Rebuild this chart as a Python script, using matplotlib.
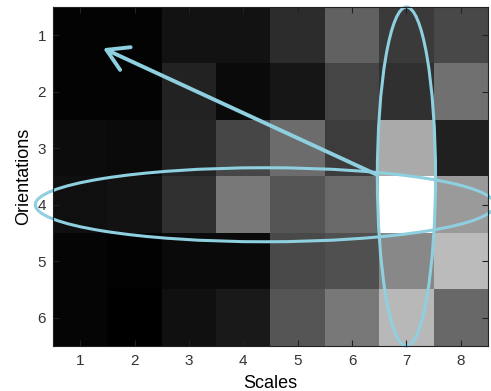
import matplotlib
matplotlib.use("Agg")
import matplotlib.pyplot as plt
import numpy as np
from matplotlib.patches import Ellipse, FancyArrowPatch

plt.rcParams['font.family'] = ['Liberation Sans', 'DejaVu Sans']

scales = [1, 2, 3, 4, 5, 6, 7, 8]
orientations = [1, 2, 3, 4, 5, 6]
# grayscale intensities (0-255), rows = orientations, cols = scales
row1 = [3, 3, 18, 18, 44, 98, 58, 72]
row2 = [3, 3, 34, 10, 22, 69, 48, 112]
row3 = [12, 10, 37, 70, 108, 60, 170, 32]
row4 = [15, 18, 48, 120, 85, 106, 255, 154]
row5 = [5, 2, 10, 10, 74, 80, 136, 187]
row6 = [5, 0, 16, 25, 85, 120, 184, 104]
values = np.array([row1, row2, row3, row4, row5, row6])

W, H = 491, 391
fig = plt.figure(figsize=(W / 100, H / 100), dpi=100)
ax = fig.add_axes([53 / W, 1 - 346 / H, 435 / W, 339 / H])
ax.imshow(values, cmap='gray', vmin=0, vmax=255, aspect='auto',
          extent=[0.5, 8.5, 6.5, 0.5], interpolation='nearest')
ax.set_xlim(0.5, 8.5)
ax.set_ylim(6.5, 0.5)
ax.set_xticks(scales)
ax.set_yticks(orientations)
ax.tick_params(direction='in', top=True, right=True, length=4, width=0.8,
               labelsize=11, colors='#222222')
ax.tick_params(axis='x', pad=6)
ax.tick_params(axis='y', pad=5)
ax.tick_params(labelcolor='#333333')
for s in ax.spines.values():
    s.set_linewidth(0.8)
    s.set_color('#222222')
ax.set_xlabel('Scales', fontsize=13, labelpad=5)
ax.set_ylabel('Orientations', fontsize=13, labelpad=4)

c = '#8ecfe0'
e1 = Ellipse((4.4, 4.0), 8.45, 1.31, fill=False, edgecolor=c, linewidth=2.2, clip_on=False)
e2 = Ellipse((7.0, 3.5), 1.07, 6.0, fill=False, edgecolor=c, linewidth=2.2, clip_on=False)
ax.add_patch(e1)
ax.add_patch(e2)
arr = FancyArrowPatch((6.46, 3.47), (1.42, 1.23), arrowstyle='->,head_length=10,head_width=6',
                      color=c, linewidth=2.8, mutation_scale=1.5, clip_on=False,
                      shrinkA=0, shrinkB=0)
ax.add_patch(arr)

fig.savefig('out.png', dpi=100)
